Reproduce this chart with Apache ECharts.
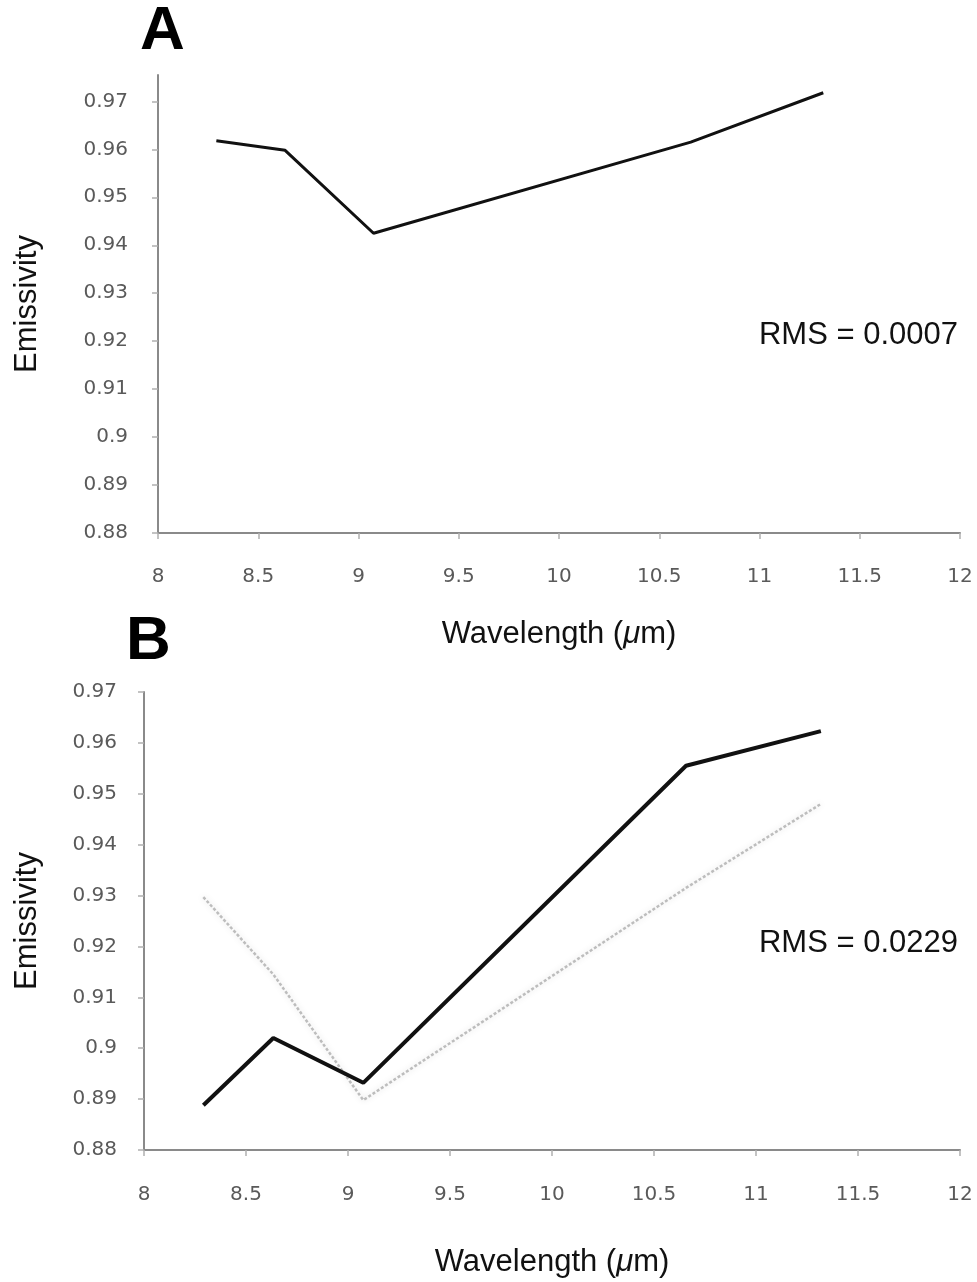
<!DOCTYPE html>
<html>
<head>
<meta charset="utf-8">
<script src="https://cdn.jsdelivr.net/npm/echarts@6/dist/echarts.min.js"></script>
<style>
html,body{margin:0;padding:0;background:#fff;}
#chart{width:977px;height:1282px;}
</style>
</head>
<body>
<div id="chart"></div>
<script>
// ASTER TIR band centre wavelengths (µm)
const wavelengths = [8.291, 8.634, 9.075, 10.657, 11.318];
// Panel A
const emissivityA = [0.9618, 0.9598, 0.9425, 0.9615, 0.9718];
// Panel B
const emissivityB = [0.8888, 0.9020, 0.8932, 0.9555, 0.9623];
const emissivityBGrey = [0.9297, 0.9145, 0.8898, 0.9315, 0.9480];
const panelLabels = ['A', 'B'];
const rmsLabels = ['RMS = 0.0007', 'RMS = 0.0229'];
const xName = '{n|Wavelength (}{i|\u03bc}{n|m)}';
const yName = 'Emissivity';

function pairs(xs, ys){ return xs.map((x,i)=>[x, ys[i]]); }

const chart = echarts.init(document.getElementById('chart'), null, {renderer:'canvas'});

const axisLineStyle = {color:'#8a8a8a', width:2};
const tickStyle = {color:'#b0b0b0', width:1.5};
const labelFont = {fontFamily:'DejaVu Sans', fontSize:20, color:'#5a5a5a'};
const nameFont = {fontFamily:'Liberation Sans', fontSize:31, color:'#111'};
const xNameFont = {
  fontFamily:'Liberation Sans', fontSize:31, color:'#111',
  rich:{
    n:{fontFamily:'Liberation Sans', fontSize:31, color:'#111'},
    i:{fontFamily:'Liberation Sans', fontSize:31, color:'#111', fontStyle:'italic'}
  }
};

function xAxisCfg(gridIndex, gap, margin){
  return {
    type:'value', gridIndex, min:8, max:12, interval:0.5,
    name:xName, nameLocation:'middle', nameGap:gap, nameTextStyle:xNameFont,
    axisLine:{show:true, lineStyle:axisLineStyle},
    axisTick:{show:true, length:6, lineStyle:tickStyle},
    axisLabel:{margin:margin, ...labelFont},
    splitLine:{show:false}
  };
}
function yAxisCfg(gridIndex, max, gap, margin){
  return {
    type:'value', gridIndex, min:0.88, max:max, interval:0.01,
    name:yName, nameLocation:'middle', nameGap:gap, nameTextStyle:nameFont,
    axisLine:{show:true, lineStyle:axisLineStyle},
    axisTick:{show:true, length:6, lineStyle:tickStyle},
    axisLabel:{margin:margin, showMaxLabel: max <= 0.97 + 1e-9, ...labelFont,
      formatter: v => String(Math.round(v*100)/100)},
    splitLine:{show:false}
  };
}

const option = {
  backgroundColor:'#ffffff',
  animation:false,
  grid:[
    {left:158, right:17, top:75, bottom:749},
    {left:144, right:17, top:692, bottom:132}
  ],
  xAxis:[ xAxisCfg(0, 86, 34), xAxisCfg(1, 97, 35) ],
  yAxis:[ yAxisCfg(0, 0.9755, 115, 30), yAxisCfg(1, 0.97, 101, 27) ],
  series:[
    {type:'line', xAxisIndex:0, yAxisIndex:0, data:pairs(wavelengths, emissivityA),
     showSymbol:false, lineStyle:{color:'#111', width:3}},
    {type:'line', xAxisIndex:1, yAxisIndex:1, data:pairs(wavelengths, emissivityBGrey),
     showSymbol:false, lineStyle:{color:'#bdbdbd', width:2.5, type:[3,2], shadowBlur:6, shadowColor:'rgba(0,0,0,0.15)'}},
    {type:'line', xAxisIndex:1, yAxisIndex:1, data:pairs(wavelengths, emissivityB),
     showSymbol:false, lineStyle:{color:'#111', width:4}}
  ],
  graphic:[
    {type:'text', left:140, top:1, style:{text:panelLabels[0], font:'bold 62px "Liberation Sans"', fill:'#000'}},
    {type:'text', left:126, top:611, style:{text:panelLabels[1], font:'bold 62px "Liberation Sans"', fill:'#000'}},
    {type:'text', right:19, top:320, style:{text:rmsLabels[0], font:'31px "Liberation Sans"', fill:'#111'}},
    {type:'text', right:19, top:928, style:{text:rmsLabels[1], font:'31px "Liberation Sans"', fill:'#111'}}
  ]
};
chart.setOption(option);
</script>
</body>
</html>
